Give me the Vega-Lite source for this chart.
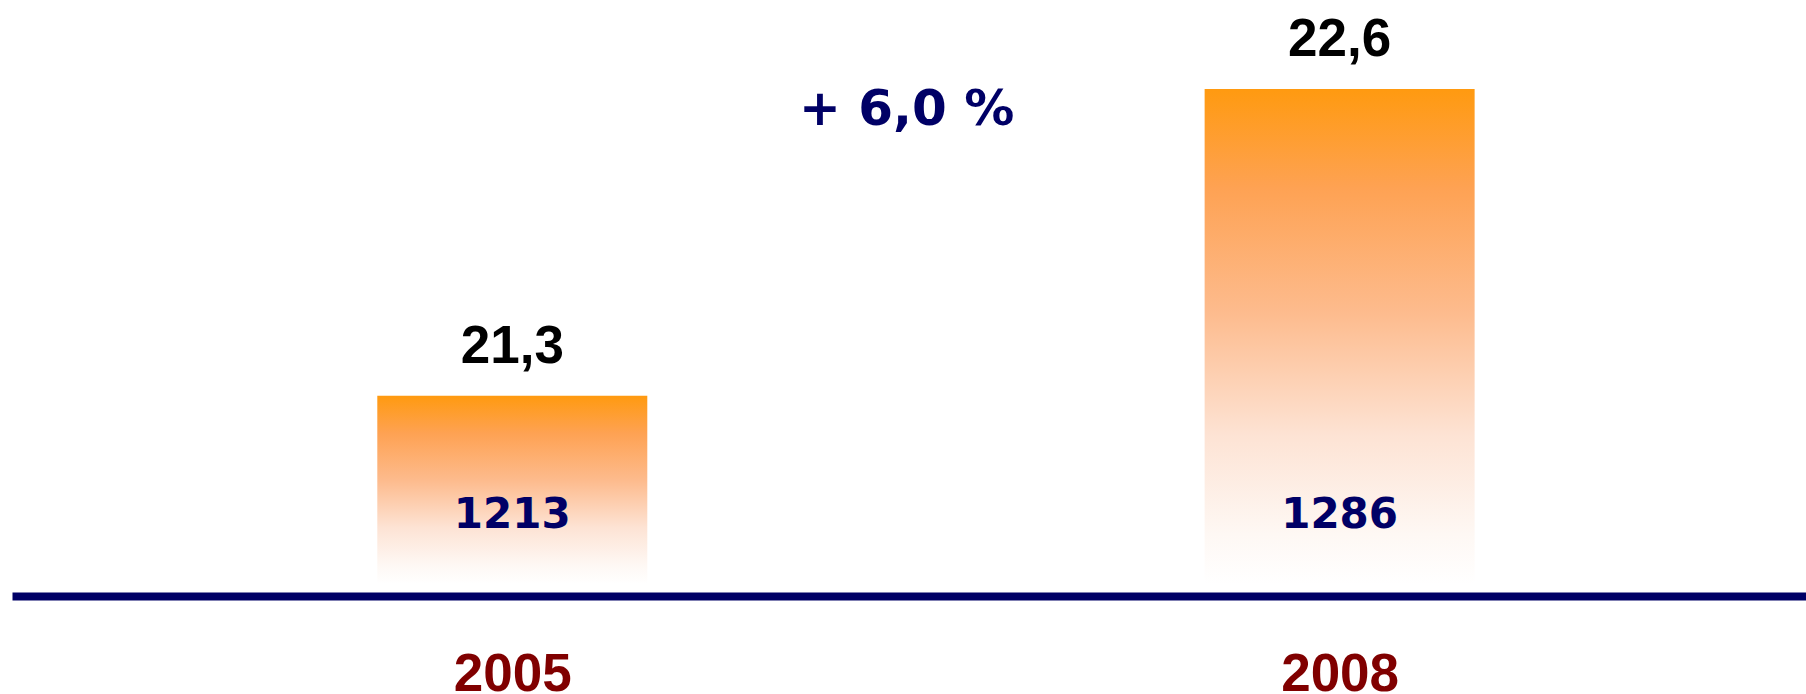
{
  "$schema": "https://vega.github.io/schema/vega-lite/v6.json",
  "autosize": {"type": "none"},
  "padding": {"left": 12, "top": 0, "right": 0, "bottom": 98},
  "width": 1794,
  "height": 596,
  "background": "white",
  "config": {
    "view": {"stroke": null},
    "locale": {"number": {"decimal": ",", "thousands": ".", "grouping": [3], "currency": ["", " €"]}}
  },
  "datasets": {
    "bars": [
      {"year": 2005, "value": 21.3, "count": 1213},
      {"year": 2008, "value": 22.6, "count": 1286}
    ],
    "growth": [
      {"label": "+ 6,0 %"}
    ]
  },
  "layer": [
    {
      "data": {"name": "bars"},
      "mark": {
        "type": "bar",
        "width": 270,
        "color": {
          "gradient": "linear",
          "x1": 0, "y1": 0, "x2": 0, "y2": 1,
          "stops": [
            {"offset": 0, "color": "#ff9a10"},
            {"offset": 0.2, "color": "#fea253"},
            {"offset": 0.45, "color": "#fdbb8d"},
            {"offset": 0.7, "color": "#fde3d4"},
            {"offset": 0.9, "color": "#fef8f4"},
            {"offset": 1, "color": "#ffffff"}
          ]
        }
      },
      "encoding": {
        "x": {
          "field": "year",
          "type": "quantitative",
          "scale": {"domain": [2003.204, 2009.673], "nice": false, "zero": false},
          "axis": {
            "title": null,
            "values": [2005, 2008],
            "format": "d",
            "grid": false,
            "ticks": false,
            "tickSize": 0,
            "domainColor": "#000066",
            "domainWidth": 8,
            "labelFont": "Liberation Sans",
            "labelFontWeight": "bold",
            "labelFontSize": 53,
            "labelColor": "#800000",
            "labelBaseline": "alphabetic",
            "labelPadding": 94,
            "labelFlush": false
          }
        },
        "y": {
          "field": "value",
          "type": "quantitative",
          "scale": {"domain": [20.452, 22.977], "nice": false, "zero": false},
          "axis": null
        },
        "y2": {"datum": 20.503}
      }
    },
    {
      "data": {"name": "bars"},
      "mark": {
        "type": "text",
        "font": "Liberation Sans",
        "fontWeight": "bold",
        "fontSize": 53,
        "color": "#000000",
        "baseline": "alphabetic",
        "align": "center",
        "dy": -33
      },
      "encoding": {
        "x": {"field": "year", "type": "quantitative"},
        "y": {"field": "value", "type": "quantitative"},
        "text": {"field": "value", "type": "quantitative", "format": ".1f"}
      }
    },
    {
      "data": {"name": "bars"},
      "mark": {
        "type": "text",
        "font": "DejaVu Sans",
        "fontWeight": "bold",
        "fontSize": 42,
        "color": "#000066",
        "baseline": "alphabetic",
        "align": "center"
      },
      "encoding": {
        "x": {"field": "year", "type": "quantitative"},
        "y": {"datum": 20.74},
        "text": {"field": "count", "type": "quantitative", "format": "d"}
      }
    },
    {
      "data": {"name": "growth"},
      "mark": {
        "type": "text",
        "font": "DejaVu Sans",
        "fontWeight": "bold",
        "fontSize": 50,
        "color": "#000066",
        "baseline": "alphabetic",
        "align": "center"
      },
      "encoding": {
        "x": {"datum": 2006.43},
        "y": {"datum": 22.447},
        "text": {"field": "label"}
      }
    }
  ]
}
